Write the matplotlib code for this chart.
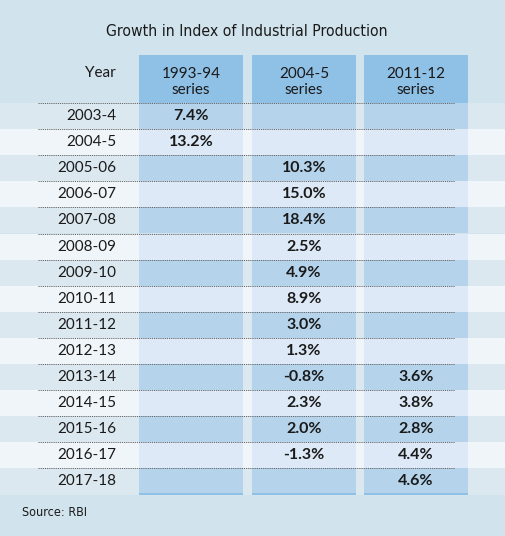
import matplotlib.pyplot as plt
from matplotlib.patches import Rectangle

years = ["2003-4", "2004-5", "2005-06", "2006-07", "2007-08", "2008-09", "2009-10",
         "2010-11", "2011-12", "2012-13", "2013-14", "2014-15", "2015-16", "2016-17", "2017-18"]
series_names = ["1993-94\nseries", "2004-5\nseries", "2011-12\nseries"]
s1993 = ["7.4%", "13.2%", "", "", "", "", "", "", "", "", "", "", "", "", ""]
s2004 = ["", "", "10.3%", "15.0%", "18.4%", "2.5%", "4.9%", "8.9%", "3.0%", "1.3%",
         "-0.8%", "2.3%", "2.0%", "-1.3%", ""]
s2011 = ["", "", "", "", "", "", "", "", "", "", "3.6%", "3.8%", "2.8%", "4.4%", "4.6%"]
columns = [s1993, s2004, s2011]

bg = "#d1e3ec"
fig = plt.figure(figsize=(5.05, 5.36), dpi=100, facecolor=bg)
ax = fig.add_axes([0, 0, 1, 1])
ax.set_xlim(0, 505)
ax.set_ylim(536, 0)
ax.axis("off")

body_font = ["Lato", "DejaVu Sans"]
title_font = ["DejaVu Sans"]

top = 103
rh = 26.1
col_x = [139, 252, 364]
col_w = 104
head_top = 55

ax.text(247, 32, "Growth in Index of Industrial Production", ha="center", va="center",
        fontsize=11.3, family=title_font, fontstretch="condensed", color="#1a1a1a")

# header
ax.text(116, 73, "Year", ha="right", va="center", fontsize=11, family=body_font, color="#1a1a1a")
for x, name in zip(col_x, series_names):
    ax.add_patch(Rectangle((x, head_top), col_w, top - head_top, color="#8fc0e5", lw=0))
    ax.text(x + col_w / 2, 82, name, ha="center", va="center", fontsize=11,
            family=body_font, color="#1a1a1a", linespacing=1.25)

for i, yr in enumerate(years):
    y0 = top + i * rh
    row_bg = "#dbe8f0" if i % 2 == 0 else "#f0f5f9"
    cell = "#b5d4ec" if i % 2 == 0 else "#dde9f6"
    ax.add_patch(Rectangle((0, y0), 505, rh, color=row_bg, lw=0))
    for x in col_x:
        ax.add_patch(Rectangle((x, y0), col_w, rh, color=cell, lw=0))
    ax.plot([38, 455], [y0, y0], ls=(0, (1.2, 1)), lw=0.7, color="#666666")
    ax.text(116, y0 + rh / 2, yr, ha="right", va="center", fontsize=11,
            family=body_font, color="#1a1a1a")
    for x, col in zip(col_x, columns):
        if col[i]:
            ax.text(x + col_w / 2, y0 + rh / 2, col[i], ha="center", va="center",
                    fontsize=11.5, fontweight="bold", family=body_font, color="#1a1a1a")

bottom = top + len(years) * rh
for x in col_x:
    ax.add_patch(Rectangle((x, bottom - 2), col_w, 2, color="#8fc0e5", lw=0))

ax.text(22, 513, "Source: RBI", ha="left", va="center", fontsize=9,
        family=title_font, fontstretch="condensed", color="#1a1a1a")

fig.savefig("out.png", dpi=100, facecolor=bg)
